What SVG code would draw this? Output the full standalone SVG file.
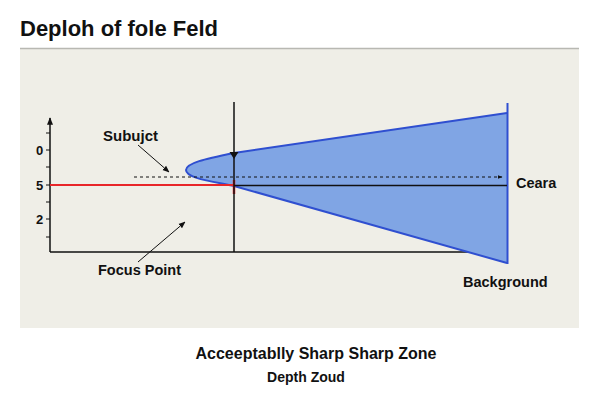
<svg xmlns="http://www.w3.org/2000/svg" width="600" height="420" viewBox="0 0 600 420">
<defs>
<style>
text{font-family:"Liberation Sans",Arial,sans-serif;font-weight:bold;fill:#111}
.ax{stroke:#111;stroke-width:1.5;fill:none}
.thin{stroke:#111;stroke-width:1;fill:none}
</style>
<marker id="ah" viewBox="0 0 10 10" refX="9" refY="5" markerWidth="7" markerHeight="7" orient="auto-start-reverse"><path d="M0,1 L10,5 L0,9 z" fill="#111"/></marker>
<marker id="ahs" viewBox="0 0 10 10" refX="9" refY="5" markerWidth="5" markerHeight="5" orient="auto"><path d="M0,1 L10,5 L0,9 z" fill="#111"/></marker>
</defs>
<rect width="600" height="420" fill="#fff"/>
<text x="20" y="36" font-size="22">Deploh of fole Feld</text>
<rect x="20" y="48" width="559" height="280" fill="#efeee7"/>
<line x1="20" y1="48.5" x2="579" y2="48.5" stroke="#b8b8b2" stroke-width="1.5"/>
<g id="axes">
<line class="ax" x1="50" y1="252" x2="50" y2="118" marker-end="url(#ahs)"/>
<line class="ax" x1="50" y1="252" x2="508" y2="252"/>
<g class="thin"><path d="M46,133H50M46,150H50M46,167H50M46,185H50M46,202H50M46,219H50M46,237H50"/></g>
<text x="36" y="155" font-size="13">0</text>
<text x="36" y="190" font-size="13">5</text>
<text x="36" y="224" font-size="13">2</text>
</g>
<g id="zone">
<path d="M234,153 C205,159 186,163 186,170 C186,178 210,181 234,186 L507,263 L507,113 Z" fill="#80a5e4"/>
<path d="M507,113 L234,153 C205,159 186,163 186,170 C186,178 210,181 234,186 L507,263" fill="none" stroke="#2f4fd0" stroke-width="2"/>
<line x1="507.5" y1="103" x2="507.5" y2="264" stroke="#2f4fd0" stroke-width="2"/>
</g>
<g id="connectors">
<line x1="50" y1="185" x2="234" y2="185" stroke="#e8262a" stroke-width="2"/>
<line x1="234" y1="180" x2="234" y2="194" stroke="#e8262a" stroke-width="2.5"/>
<line x1="234" y1="185.5" x2="507" y2="185.5" class="ax"/>
<line x1="234" y1="102" x2="234" y2="252" class="ax"/>
<path d="M229.5,152 L238.5,152 L234,159 z" fill="#111"/>
<line x1="134" y1="177" x2="502" y2="177" stroke="#111" stroke-width="1" stroke-dasharray="3,3" marker-end="url(#ahs)"/>
<line x1="138" y1="145" x2="169" y2="172" class="thin" marker-end="url(#ah)"/>
<line x1="138" y1="262" x2="185" y2="222" class="thin" marker-end="url(#ah)"/>
</g>
<g id="labels">
<text x="103" y="141" font-size="15">Subujct</text>
<text x="98" y="275" font-size="14.5">Focus Point</text>
<text x="516" y="188" font-size="14.5">Ceara</text>
<text x="463" y="287" font-size="14.5">Background</text>
<text x="316" y="359" font-size="16" text-anchor="middle">Acceeptablly Sharp Sharp Zone</text>
<text x="306" y="382" font-size="14" text-anchor="middle">Depth Zoud</text>
</g>
</svg>
